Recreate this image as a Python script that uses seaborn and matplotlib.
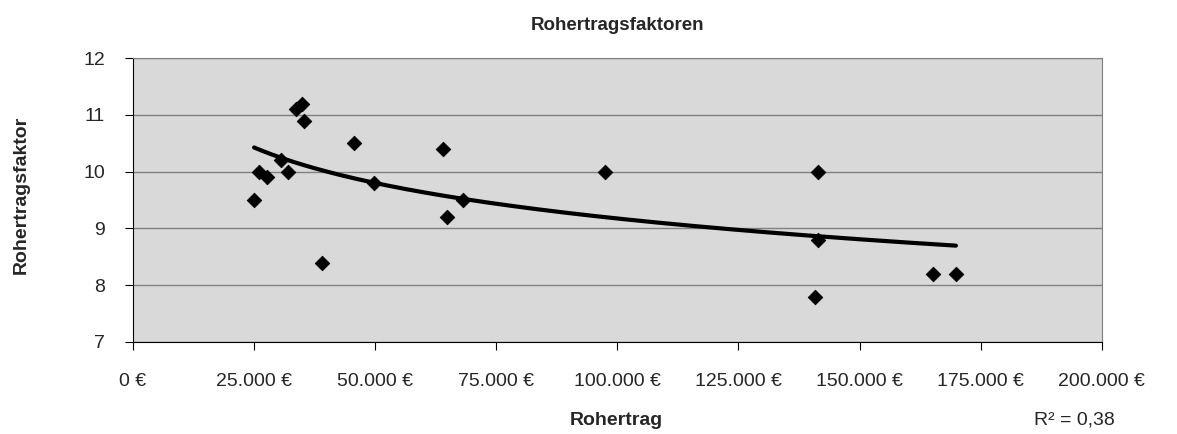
import numpy as np
import pandas as pd
import seaborn as sns
import matplotlib.pyplot as plt

# Daten
rohertrag = [25000, 26000, 27600, 30500, 32000, 33600, 34800, 35300, 39000, 45600,
             49700, 64000, 64900, 68200, 97400, 141500, 141500, 140800, 165200, 169900]
faktor = [9.5, 10.0, 9.9, 10.2, 10.0, 11.1, 11.2, 10.9, 8.4, 10.5,
          9.8, 10.4, 9.2, 9.5, 10.0, 10.0, 8.8, 7.8, 8.2, 8.2]
x_ticks = [0, 25000, 50000, 75000, 100000, 125000, 150000, 175000, 200000]
x_labels = ["0 €", "25.000 €", "50.000 €", "75.000 €", "100.000 €", "125.000 €",
            "150.000 €", "175.000 €", "200.000 €"]
y_ticks = [7, 8, 9, 10, 11, 12]
r2_text = "R² = 0,38"

df = pd.DataFrame({"Rohertrag": rohertrag, "Faktor": faktor})

# logarithmische Trendlinie
b, a = np.polyfit(np.log(df["Rohertrag"]), df["Faktor"], 1)
xs = np.linspace(df["Rohertrag"].min(), df["Rohertrag"].max(), 200)
trend = pd.DataFrame({"x": xs, "y": a + b * np.log(xs)})

sns.set_style("white")
plt.rcParams["font.family"] = ["Liberation Sans", "DejaVu Sans"]

fig = plt.figure(figsize=(11.77, 4.34), dpi=100)
ax = fig.add_axes([0.113, 0.212, 0.823, 0.654])
ax.set_facecolor("#D9D9D9")

sns.lineplot(data=trend, x="x", y="y", color="black", linewidth=3, ax=ax, zorder=2)
sns.scatterplot(data=df, x="Rohertrag", y="Faktor", marker="D", color="black",
                s=55, edgecolor="black", ax=ax, zorder=3)

ax.set_xlim(0, 200000)
ax.set_ylim(7, 12)
ax.set_xticks(x_ticks)
ax.set_xticklabels(x_labels)
ax.set_yticks(y_ticks)
ax.yaxis.grid(True, color="#808080", linewidth=1)
ax.set_axisbelow(True)
ax.tick_params(axis="both", labelsize=14, direction="out", length=6, color="black",
               left=True, bottom=True)
ax.tick_params(axis="x", pad=16)
ax.tick_params(axis="y", pad=14)

for side in ["top", "right"]:
    ax.spines[side].set_color("#808080")
for side in ["left", "bottom"]:
    ax.spines[side].set_color("black")

ax.set_title("Rohertragsfaktoren", fontsize=13.5, fontweight="bold", pad=20)
ax.set_xlabel("")
ax.set_ylabel("")
fig.text(0.524, 0.032, "Rohertrag", fontsize=14, fontweight="bold", ha="center", va="center")
fig.text(0.018, 0.55, "Rohertragsfaktor", fontsize=14, fontweight="bold",
         ha="center", va="center", rotation=90)
fig.text(0.913, 0.032, r2_text, fontsize=14, ha="center", va="center")

fig.savefig("out.png", dpi=100)
